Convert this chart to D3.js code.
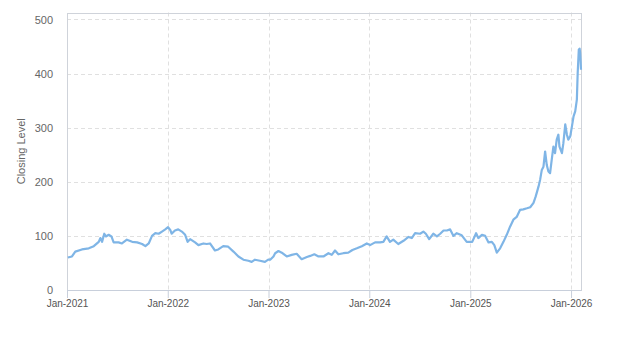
<!DOCTYPE html>
<html><head><meta charset="utf-8">
<script src="https://cdn.jsdelivr.net/npm/d3@7"></script>
<style>
body{margin:0;background:#fff;}
svg{display:block;font-family:"Liberation Sans",Arial,sans-serif;}
</style></head>
<body><svg id="chart" width="623" height="350"></svg>
<script>
const dates = ["2021-01-04","2021-01-19","2021-01-31","2021-02-24","2021-03-21","2021-04-08","2021-04-26","2021-05-02","2021-05-08","2021-05-16","2021-05-22","2021-06-01","2021-06-11","2021-06-19","2021-07-07","2021-07-19","2021-08-06","2021-08-25","2021-09-12","2021-09-30","2021-10-12","2021-10-24","2021-11-05","2021-11-17","2021-11-29","2021-12-11","2021-12-23","2022-01-02","2022-01-10","2022-01-15","2022-01-27","2022-02-08","2022-02-21","2022-03-05","2022-03-14","2022-03-23","2022-04-10","2022-04-22","2022-05-10","2022-05-22","2022-06-03","2022-06-21","2022-07-03","2022-07-21","2022-08-08","2022-08-27","2022-09-14","2022-10-02","2022-10-20","2022-11-01","2022-11-13","2022-12-01","2022-12-19","2022-12-31","2023-01-07","2023-01-19","2023-01-25","2023-02-06","2023-02-18","2023-03-08","2023-03-26","2023-04-13","2023-05-01","2023-05-20","2023-06-01","2023-06-16","2023-07-01","2023-07-19","2023-08-06","2023-08-18","2023-08-30","2023-09-11","2023-09-29","2023-10-17","2023-11-01","2023-11-17","2023-12-05","2023-12-23","2024-01-04","2024-01-22","2024-02-09","2024-02-21","2024-03-04","2024-03-16","2024-03-28","2024-04-15","2024-05-04","2024-05-22","2024-06-03","2024-06-15","2024-07-03","2024-07-15","2024-07-24","2024-08-05","2024-08-20","2024-09-02","2024-09-14","2024-09-26","2024-10-08","2024-10-20","2024-11-01","2024-11-13","2024-12-01","2024-12-19","2025-01-08","2025-01-22","2025-01-30","2025-02-12","2025-02-24","2025-03-08","2025-03-20","2025-03-29","2025-04-07","2025-04-19","2025-05-01","2025-05-13","2025-05-25","2025-06-06","2025-06-18","2025-06-30","2025-07-12","2025-07-25","2025-08-06","2025-08-18","2025-08-26","2025-09-05","2025-09-11","2025-09-17","2025-09-23","2025-09-29","2025-10-05","2025-10-11","2025-10-17","2025-10-23","2025-10-29","2025-11-04","2025-11-10","2025-11-16","2025-11-20","2025-11-29","2025-12-04","2025-12-11","2025-12-17","2025-12-22","2025-12-29","2026-01-04","2026-01-10","2026-01-16","2026-01-22","2026-01-25","2026-01-29","2026-02-01","2026-02-03","2026-02-06"];
const closing = [60,62,71,75,77,81,89,96,89,104,99,102,99,88,88,86,93,89,88,85,81,86,100,105,104,108,112,116,111,104,110,112,108,102,89,94,88,83,86,85,86,73,75,81,80,71,62,56,54,52,56,54,52,56,56,62,68,72,69,62,65,67,57,61,63,66,62,62,68,65,73,66,68,69,74,77,81,86,83,88,88,89,99,89,93,85,91,98,96,105,104,108,104,94,104,99,104,110,110,112,100,105,101,89,89,105,96,102,100,88,89,83,69,77,89,102,117,130,135,148,149,151,153,161,173,191,204,222,228,256,231,219,216,241,265,253,278,287,265,253,271,306,287,278,284,302,321,330,352,401,444,446,438,407];
const yTicks = [0,100,200,300,400,500];
const xTickLabels = ["Jan-2021","Jan-2022","Jan-2023","Jan-2024","Jan-2025","Jan-2026"];
const yTitle = "Closing Level";

const parse = d3.timeParse("%Y-%m-%d");
const data = dates.map((d,i)=>({date:parse(d), v:closing[i]}));
const xTickDates = xTickLabels.map(s=>d3.timeParse("%b-%Y")(s));

const svg = d3.select("#chart");
const m = {l:67, r:42, t:12.5, b:60};
const W = 623, H = 350;
const iw = W-m.l-m.r, ih = H-m.t-m.b;

const x = d3.scaleTime().domain([xTickDates[0], data[data.length-1].date]).range([m.l, m.l+iw]);
const y = d3.scaleLinear().domain([0, d3.max(closing)*1.15]).range([m.t+ih, m.t]);

const g = svg.append("g");
g.selectAll(".hg").data(yTicks.filter(t=>t>0)).join("line")
  .attr("x1",m.l).attr("x2",m.l+iw).attr("y1",d=>Math.round(y(d))+0.5).attr("y2",d=>Math.round(y(d))+0.5)
  .attr("stroke","#e0e0e0").attr("stroke-dasharray","4,3").attr("stroke-width",1);
g.selectAll(".vg").data(xTickDates.slice(1)).join("line")
  .attr("x1",d=>Math.round(x(d))+0.5).attr("x2",d=>Math.round(x(d))+0.5).attr("y1",m.t).attr("y2",m.t+ih)
  .attr("stroke","#e0e0e0").attr("stroke-dasharray","4,3").attr("stroke-width",1);

svg.append("rect").attr("x",m.l+0.5).attr("y",Math.round(m.t)+0.5).attr("width",iw).attr("height",ih-0.5)
  .attr("fill","none").attr("stroke","#cfd3da").attr("stroke-width",1);

const xa = svg.append("g").attr("transform",`translate(0,${m.t+ih})`)
  .call(d3.axisBottom(x).tickValues(xTickDates).tickFormat((d,i)=>xTickLabels[i]).tickSize(8).tickSizeOuter(0));
xa.select(".domain").attr("stroke","#c8cfdb");
xa.selectAll(".tick line").attr("stroke","#c8cfdb");
xa.selectAll("text").attr("fill","#555").attr("font-size","10px").attr("dy","0").attr("y",17)
  .attr("font-family","'Liberation Sans',Arial,sans-serif");

const ya = svg.append("g").attr("transform",`translate(${m.l},0)`)
  .call(d3.axisLeft(y).tickValues(yTicks).tickSize(0).tickPadding(14));
ya.select(".domain").remove();
ya.selectAll("text").attr("fill","#666").attr("font-size","11px")
  .attr("font-family","'Liberation Sans',Arial,sans-serif");

svg.append("text").attr("transform",`translate(25,${m.t+ih/2}) rotate(-90)`)
  .attr("text-anchor","middle").attr("fill","#666").attr("font-size","11px").text(yTitle);

const line = d3.line().x(d=>x(d.date)).y(d=>y(d.v));
svg.append("path").datum(data).attr("d",line).attr("fill","none")
  .attr("stroke","#7fb5e6").attr("stroke-width",2.2).attr("stroke-linejoin","round");
</script></body></html>
